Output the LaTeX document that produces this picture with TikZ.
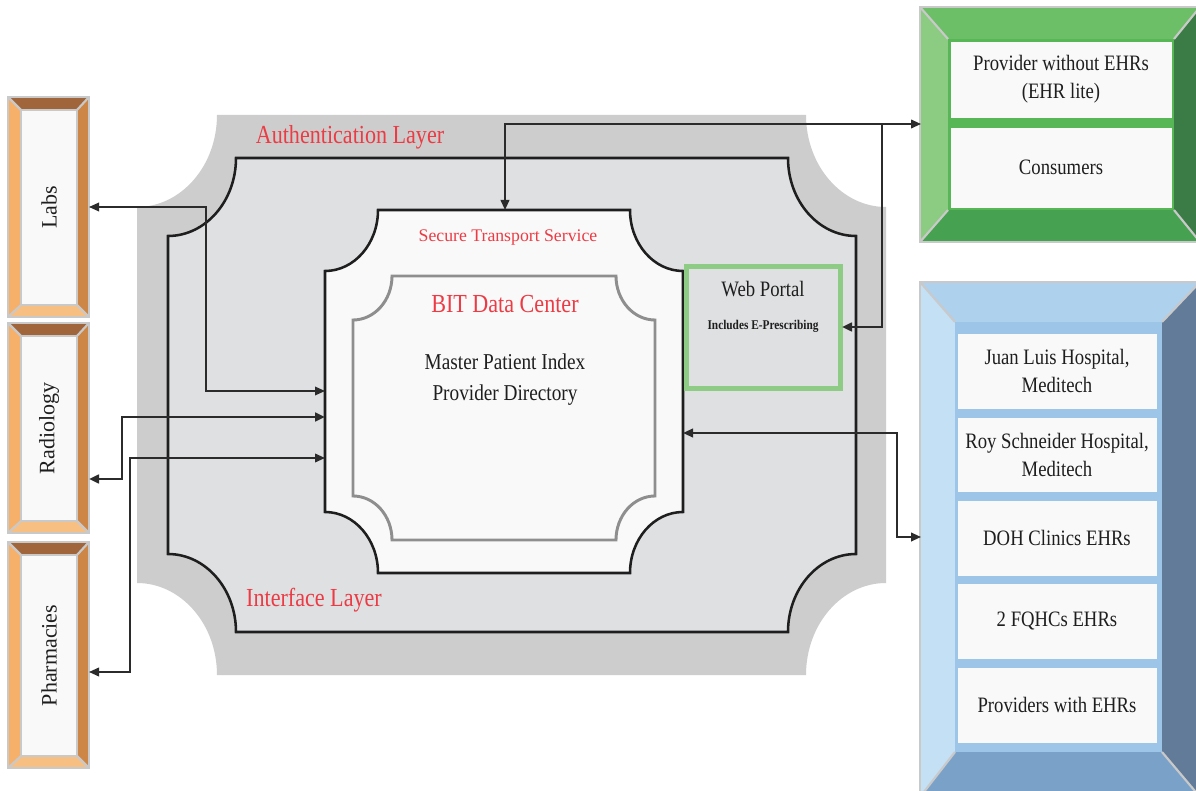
\documentclass[tikz,border=0pt]{standalone}
\usepackage{fontspec}
\setmainfont{Liberation Serif}[FakeStretch=0.85]
\newfontfamily\plainserif{Liberation Serif}
\usetikzlibrary{arrows.meta}

% palette
\definecolor{authgray}{HTML}{CDCDCD}
\definecolor{layergray}{HTML}{DFE0E2}
\definecolor{paper}{HTML}{F9F9F9}
\definecolor{bitgray}{HTML}{8E8E8E}
\definecolor{labelred}{HTML}{EC3B44}
\definecolor{portalgreen}{HTML}{8ECB84}
\definecolor{ink}{HTML}{1E1E1E}
\definecolor{wire}{HTML}{2B2B2B}
\definecolor{rim}{HTML}{C9C9C9}
\definecolor{amberT}{HTML}{A0653A}
\definecolor{amberL}{HTML}{F6B06A}
\definecolor{amberR}{HTML}{CD8646}
\definecolor{amberB}{HTML}{F8BF82}
\definecolor{leafT}{HTML}{6DBF67}
\definecolor{leafL}{HTML}{8CCB82}
\definecolor{leafR}{HTML}{3A7B46}
\definecolor{leafB}{HTML}{46A150}
\definecolor{leafstrip}{HTML}{57B757}
\definecolor{skyT}{HTML}{AED1EE}
\definecolor{skyL}{HTML}{C3E0F5}
\definecolor{skyR}{HTML}{617B98}
\definecolor{skyB}{HTML}{7AA2C8}
\definecolor{skystrip}{HTML}{9DC5E7}

\newcommand\pxu{0.75pt}
\newcommand\fsbig{\fontsize{19.5}{23}\selectfont}
\newcommand\fsmid{\fontsize{16.5}{21}\selectfont}
\newcommand\fsside{\plainserif\fontsize{16.5}{20}\selectfont}

% rectangle with concave quarter-round corners: x1 y1 x2 y2 rx ry
\newcommand\plaque[6]{%
 ({#1+#5},#2) -- ({#3-#5},#2)
 .. controls ({#3-#5},{#2+0.5523*#6}) and ({#3-0.5523*#5},{#2+#6}) .. (#3,{#2+#6})
 -- (#3,{#4-#6})
 .. controls ({#3-0.5523*#5},{#4-#6}) and ({#3-#5},{#4-0.5523*#6}) .. ({#3-#5},#4)
 -- ({#1+#5},#4)
 .. controls ({#1+#5},{#4-0.5523*#6}) and ({#1+0.5523*#5},{#4-#6}) .. (#1,{#4-#6})
 -- (#1,{#2+#6})
 .. controls ({#1+0.5523*#5},{#2+#6}) and ({#1+#5},{#2+0.5523*#6}) .. ({#1+#5},#2)
 -- cycle}

% bevelled frame: outer x1 y1 x2 y2, inner x1 y1 x2 y2, colour prefix
\newcommand\bevelbox[9]{%
 \fill[#9T] (#1,#2) -- (#3,#2) -- (#7,#6) -- (#5,#6) -- cycle;
 \fill[#9B] (#1,#4) -- (#3,#4) -- (#7,#8) -- (#5,#8) -- cycle;
 \fill[#9L] (#1,#2) -- (#5,#6) -- (#5,#8) -- (#1,#4) -- cycle;
 \fill[#9R] (#3,#2) -- (#7,#6) -- (#7,#8) -- (#3,#4) -- cycle;
 \draw[frameline] (#1,#2) -- (#5,#6) (#3,#2) -- (#7,#6)
   (#1,#4) -- (#5,#8) (#3,#4) -- (#7,#8);
 \draw[frameline] (#1,#2) rectangle (#3,#4);
}

\begin{document}
\begin{tikzpicture}[x=0.75pt,y=-0.75pt,
  hd/.tip={Triangle[length=7.5pt,width=6.5pt]},
  link/.style={draw=wire, line width=#1, hd-hd},
  onehead/.style={draw=wire, line width=#1, -hd},
  frameline/.style={draw=rim, line width=1.6pt, line join=miter},
  layerlabel/.style={text=labelred, font=\fsbig, inner sep=0},
  body/.style={text=ink, font=\fsmid, align=center, inner sep=0},
  cell/.style={fill=paper, draw=#1, line width=0.6pt, inner sep=0,
    align=center, font=\fsmid, text=ink},
  sidecell/.style={fill=paper, draw=rim, line width=1.2pt, inner sep=0,
    rotate=90, font=\fsside, text=ink,
    minimum height=56*\pxu},
  portal/.style={draw=portalgreen, line width=3.75pt, fill=layergray,
    inner sep=0}
]
\useasboundingbox (0,0) rectangle (1196,791);
\fill[white] (0,0) rectangle (1196,791);

% nested layers of the exchange
\fill[authgray] \plaque{137}{115}{886}{675}{80}{92};
\filldraw[fill=layergray, draw=ink, line width=1.9pt] \plaque{168}{158}{856}{632}{68}{78};
\filldraw[fill=paper, draw=ink, line width=1.9pt] \plaque{325}{210}{683}{573}{53}{61};
\filldraw[fill=paper, draw=bitgray, line width=2.2pt] \plaque{353}{276}{655}{540}{39}{44};

\node[layerlabel] (auth) at (350,137) {Authentication Layer};
\node[layerlabel] (iface) at (314,600) {Interface Layer};
\node[text=labelred, font=\plainserif\fontsize{13.3}{16}\selectfont, inner sep=0]
  (sts) at (508,238) {Secure Transport Service};
\node[layerlabel] (bit) at (505,304) {BIT Data Center};
\node[body, font=\fontsize{17}{23.25}\selectfont] (mpi) at (505,380)
  {Master Patient Index\\Provider Directory};

% web portal
\node[portal, minimum width=154*\pxu, minimum height=122.5*\pxu] (portal) at (763,327.75) {};
\node[body, font=\fontsize{16.5}{20}\selectfont] (portalname) at (763,289) {Web Portal};
\node[body, font=\bfseries\fontsize{10}{12}\selectfont] (portalnote) at (763,326) {Includes E-Prescribing};

% source systems on the left
\bevelbox{8}{97}{89}{317}{21}{110}{77}{305}{amber}
\bevelbox{8}{323}{89}{533}{21}{336}{77}{521}{amber}
\bevelbox{8}{542}{89}{768}{21}{555}{77}{756}{amber}
\node[sidecell, minimum width=195*\pxu] (labs) at (49,207.5) {Labs};
\node[sidecell, minimum width=185*\pxu] (radiology) at (49,428.5) {Radiology};
\node[sidecell, minimum width=201*\pxu] (pharmacies) at (49,655.5) {Pharmacies};

\begin{scope}
\clip (0,0) rectangle (1196,791);
% users of the portal
\bevelbox{920}{7}{1200}{242}{948}{39}{1174}{210}{leaf}
\fill[leafstrip] (948,39) rectangle (1174,210);
\node[cell=leafstrip, minimum width=222*\pxu, minimum height=77*\pxu] (ehrlite) at (1061,79.5)
  {Provider without EHRs\\(EHR lite)};
\node[cell=leafstrip, minimum width=222*\pxu, minimum height=81*\pxu] (consumers) at (1061,167.5)
  {Consumers};
% connected EHR systems
\bevelbox{920}{282}{1200}{797}{955}{322}{1162}{752}{sky}
\fill[skystrip] (955,322) rectangle (1162,752);
\node[cell=skystrip, minimum width=200*\pxu, minimum height=76*\pxu] (juan) at (1057,371)
  {Juan Luis Hospital,\\Meditech};
\node[cell=skystrip, minimum width=200*\pxu, minimum height=75*\pxu] (roy) at (1057,454.5)
  {Roy Schneider Hospital,\\Meditech};
\node[cell=skystrip, minimum width=200*\pxu, minimum height=76*\pxu] (doh) at (1057,538)
  {DOH Clinics EHRs};
\node[cell=skystrip, minimum width=200*\pxu, minimum height=76*\pxu] (fqhc) at (1057,621)
  {2 FQHCs EHRs};
\node[cell=skystrip, minimum width=200*\pxu, minimum height=76*\pxu] (withehr) at (1057,705)
  {Providers with EHRs};
\end{scope}

% connector ports
\coordinate (labsE) at (89,207);
\coordinate (radE) at (89,479);
\coordinate (pharmE) at (89,672);
\coordinate (stsW1) at (325,391);
\coordinate (stsW2) at (325,417);
\coordinate (stsW3) at (325,458);
\coordinate (stsN) at (505,210);
\coordinate (stsE) at (683,433);
\coordinate (greenW) at (921,124);
\coordinate (blueW) at (921,537);
\coordinate (portalE) at (842,327);
\coordinate (labsBend) at (206,207);
\coordinate (radBend) at (122,479);
\coordinate (pharmBend) at (130,672);
\coordinate (topSplit) at (882,124);
\coordinate (rightBend) at (897,433);

\draw[link=0.95pt] (labsE) -- (labsBend) |- (stsW1);
\draw[link=2.2pt] (radE) -- (radBend) |- (stsW2);
\draw[link=1.2pt] (pharmE) -- (pharmBend) |- (stsW3);
\draw[link=1.3pt] (stsN) |- (greenW);
\draw[onehead=1.9pt] (topSplit) |- (portalE);
\draw[link=1.4pt] (stsE) -- (rightBend) |- (blueW);
\end{tikzpicture}
\end{document}
